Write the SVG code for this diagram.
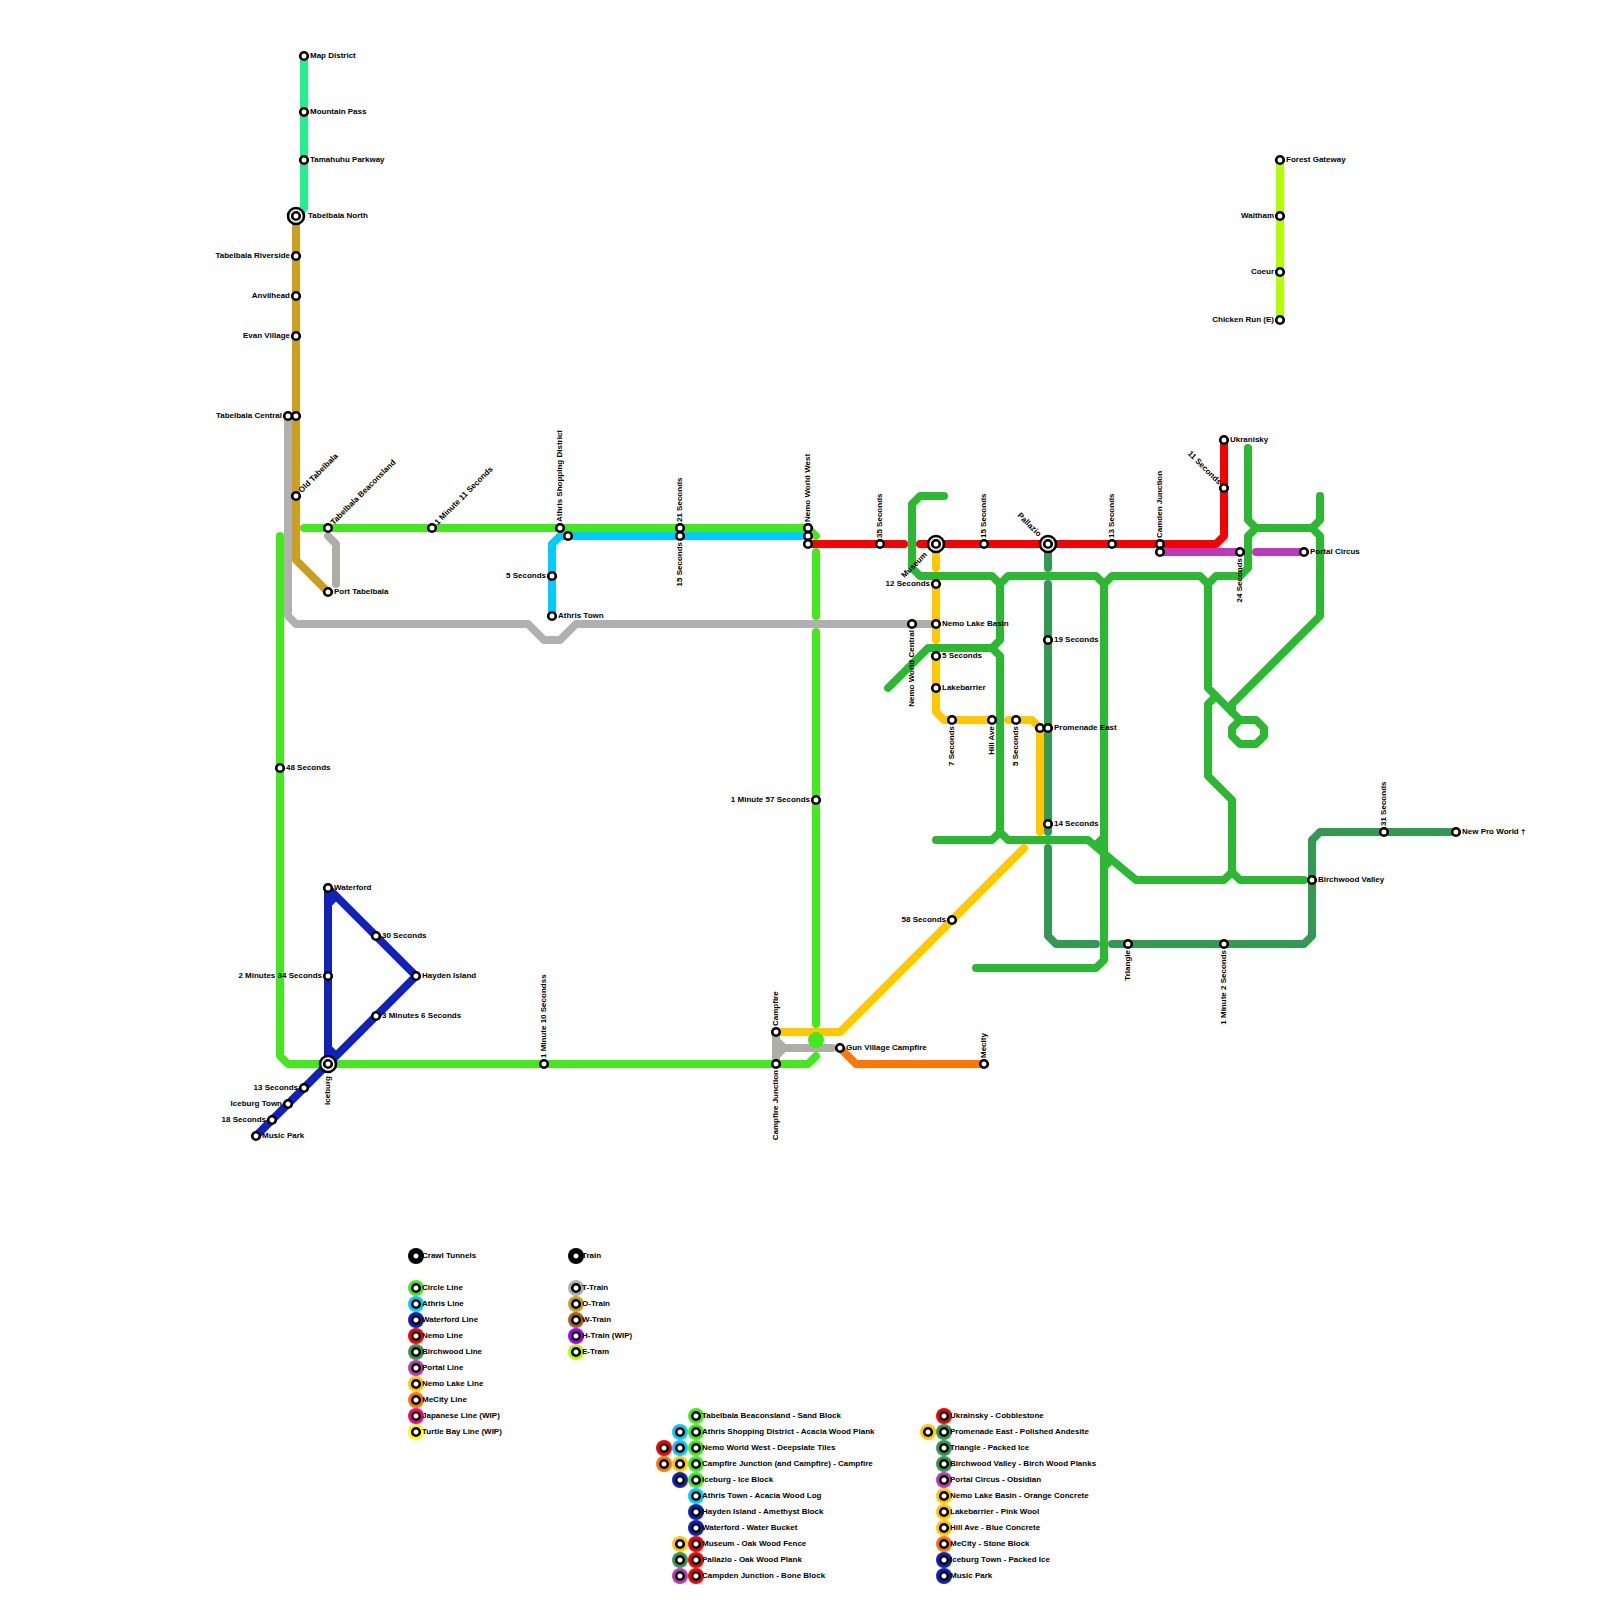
<svg xmlns="http://www.w3.org/2000/svg" width="1600" height="1600" viewBox="0 0 1600 1600">
<style>
text{font-family:"Liberation Sans",Arial,sans-serif;font-size:8px;font-weight:bold;fill:#000}
.e{text-anchor:end}
.l{fill:none;stroke-width:8;stroke-linecap:round;stroke-linejoin:round}
.s{fill:#fff;stroke:#000;stroke-width:2.6}
.k{fill:#000}
.circle{stroke:#45E81F}.athris{stroke:#00CCFF}.water{stroke:#1122BB}.nemo{stroke:#F70000}.birch{stroke:#339955}.portal{stroke:#BA3ABA}.lake{stroke:#FFC800}.mecity{stroke:#FF7700}.t{stroke:#B0B0B0}.t2{stroke:#ADAFA5}.o{stroke:#CC9F1F}.etram{stroke:#B3FF00}.map{stroke:#22F08C}.wip{stroke:#2DB833}
</style>
<rect width="1600" height="1600" fill="#fff"/>
<g id="connectors">
<path class="l map" d="M304 56V208L296 216"/>
<path class="l t" d="M288 416V616L296 624H528L544 640H560L576 624H912"/>
<path class="l t2" d="M912 624H936"/>
<path class="l t2" d="M328 536L336 544V584"/>
<path class="l o" d="M296 216V560L328 592"/>
<path class="l circle" d="M304 528H808L816 536"/>
<path class="l circle" d="M280 536V1056L288 1064H808L816 1056"/>
<path class="l circle" d="M816 552V616M816 632V1024"/>
<path class="l athris" d="M552 616V544L560 536H808"/>
<path class="l water" d="M328 888V1064M336 896L328 904M328 1048L336 1056M328 888L416 976L256 1136"/>
<path class="l lake" d="M936 544V568M936 584V640M936 656V712L944 720H992M1008 720H1032L1040 728V832M1024 848L840 1032H776"/>
<path class="l t2" d="M776 1032V1064M776 1040L784 1048L776 1056M784 1048H832"/>
<circle cx="816" cy="1040" r="8" fill="#45E81F"/>
<path class="l mecity" d="M840 1048L856 1064H984"/>
<path class="l wip" d="M944 496H920L912 504V568L920 576H992L1000 584L1008 576H1096L1104 584L1112 576H1200L1208 584L1216 576H1240L1248 568V536L1256 528H1312L1320 536V616L1232 704V712"/>
<path class="l wip" d="M1248 448V520L1256 528M1312 528L1320 520V496"/>
<path class="l wip" d="M1000 584V640L992 648H928L888 688M992 648L1000 656V832L992 840H936M1000 832L1008 840H1088L1136 880H1224L1232 872V800L1208 776V704L1216 696M1232 872L1240 880H1304"/>
<path class="l wip" d="M1104 584V960L1096 968H976M1104 837L1098 843M1104 867L1110 861"/>
<path class="l wip" d="M1208 584V688L1240 720H1256L1264 728V736L1256 744H1240L1232 736V728L1240 720"/>
<path class="l nemo" d="M808 544H904M920 544H1216L1224 536V440"/>
<path class="l portal" d="M1160 552H1240M1256 552H1304"/>
<path class="l birch" d="M1048 544V568M1048 584V832M1048 848V936L1056 944H1096M1112 944H1304L1312 936V840L1320 832H1456"/>
<path class="l etram" d="M1280 160V320"/>
</g>
<g id="stations">
<g id="n1"><circle class="s" cx="304" cy="56" r="3.8"/><text x="310" y="58">Map District</text></g>
<g id="n2"><circle class="s" cx="304" cy="112" r="3.8"/><text x="310" y="114">Mountain Pass</text></g>
<g id="n3"><circle class="s" cx="304" cy="160" r="3.8"/><text x="310" y="162">Tamahuhu Parkway</text></g>
<g id="n4"><circle class="s" cx="296" cy="216" r="8"/><circle class="s" cx="296" cy="216" r="3.8"/><text x="308" y="218">Tabelbala North</text></g>
<g id="n5"><circle class="s" cx="296" cy="256" r="3.8"/><text class="e" x="290" y="258">Tabelbala Riverside</text></g>
<g id="n6"><circle class="s" cx="296" cy="296" r="3.8"/><text class="e" x="290" y="298">Anvilhead</text></g>
<g id="n7"><circle class="s" cx="296" cy="336" r="3.8"/><text class="e" x="290" y="338">Evan Village</text></g>
<g id="n8"><circle class="s" cx="288" cy="416" r="3.8"/><text class="e" x="282" y="418">Tabelbala Central</text></g>
<g id="n9"><circle class="s" cx="296" cy="416" r="3.8"/></g>
<g id="n10"><circle class="s" cx="296" cy="496" r="3.8"/><text x="302" y="498" transform="rotate(-45 296 496)">Old Tabelbala</text></g>
<g id="n11"><circle class="s" cx="328" cy="528" r="3.8"/><text x="334" y="530" transform="rotate(-45 328 528)">Tabelbala Beaconsland</text></g>
<g id="n12"><circle class="s" cx="432" cy="528" r="3.8"/><text x="438" y="530" transform="rotate(-45 432 528)">1 Minute 11 Seconds</text></g>
<g id="n13"><circle class="s" cx="328" cy="592" r="3.8"/><text x="334" y="594">Port Tabelbala</text></g>
<g id="n14"><circle class="s" cx="560" cy="528" r="3.8"/><text x="566" y="530" transform="rotate(-90 560 528)">Athris Shopping District</text></g>
<g id="n15"><circle class="s" cx="568" cy="536" r="3.8"/></g>
<g id="n16"><circle class="s" cx="552" cy="576" r="3.8"/><text class="e" x="546" y="578">5 Seconds</text></g>
<g id="n17"><circle class="s" cx="552" cy="616" r="3.8"/><text x="558" y="618">Athris Town</text></g>
<g id="n18"><circle class="s" cx="680" cy="528" r="3.8"/><text x="686" y="530" transform="rotate(-90 680 528)">21 Seconds</text></g>
<g id="n19"><circle class="s" cx="680" cy="536" r="3.8"/><text class="e" x="674" y="538" transform="rotate(-90 680 536)">15 Seconds</text></g>
<g id="n20"><circle class="s" cx="808" cy="528" r="3.8"/><text x="814" y="530" transform="rotate(-90 808 528)">Nemo World West</text></g>
<g id="n21"><circle class="s" cx="808" cy="536" r="3.8"/></g>
<g id="n22"><circle class="s" cx="808" cy="544" r="3.8"/></g>
<g id="n23"><circle class="s" cx="880" cy="544" r="3.8"/><text x="886" y="546" transform="rotate(-90 880 544)">35 Seconds</text></g>
<g id="n24"><circle class="s" cx="936" cy="544" r="8"/><circle class="s" cx="936" cy="544" r="3.8"/><text class="e" x="922" y="546" transform="rotate(-45 936 544)">Museum</text></g>
<g id="n25"><circle class="s" cx="984" cy="544" r="3.8"/><text x="990" y="546" transform="rotate(-90 984 544)">15 Seconds</text></g>
<g id="n26"><circle class="s" cx="1048" cy="544" r="8"/><circle class="s" cx="1048" cy="544" r="3.8"/><text class="e" x="1036" y="546" transform="rotate(45 1048 544)">Pallazio</text></g>
<g id="n27"><circle class="s" cx="1112" cy="544" r="3.8"/><text x="1118" y="546" transform="rotate(-90 1112 544)">13 Seconds</text></g>
<g id="n28"><circle class="s" cx="1160" cy="544" r="3.8"/><text x="1166" y="546" transform="rotate(-90 1160 544)">Camden Junction</text></g>
<g id="n29"><circle class="s" cx="1160" cy="552" r="3.8"/></g>
<g id="n30"><circle class="s" cx="1224" cy="440" r="3.8"/><text x="1230" y="442">Ukranisky</text></g>
<g id="n31"><circle class="s" cx="1224" cy="488" r="3.8"/><text class="e" x="1218" y="490" transform="rotate(45 1224 488)">11 Seconds</text></g>
<g id="n32"><circle class="s" cx="1240" cy="552" r="3.8"/><text class="e" x="1234" y="554" transform="rotate(-90 1240 552)">24 Seconds</text></g>
<g id="n33"><circle class="s" cx="1304" cy="552" r="3.8"/><text x="1310" y="554">Portal Circus</text></g>
<g id="n34"><circle class="s" cx="936" cy="584" r="3.8"/><text class="e" x="930" y="586">12 Seconds</text></g>
<g id="n35"><circle class="s" cx="936" cy="624" r="3.8"/><text x="942" y="626">Nemo Lake Basin</text></g>
<g id="n36"><circle class="s" cx="912" cy="624" r="3.8"/><text class="e" x="906" y="626" transform="rotate(-90 912 624)">Nemo World Central</text></g>
<g id="n37"><circle class="s" cx="936" cy="656" r="3.8"/><text x="942" y="658">5 Seconds</text></g>
<g id="n38"><circle class="s" cx="936" cy="688" r="3.8"/><text x="942" y="690">Lakebarrier</text></g>
<g id="n39"><circle class="s" cx="952" cy="720" r="3.8"/><text class="e" x="946" y="722" transform="rotate(-90 952 720)">7 Seconds</text></g>
<g id="n40"><circle class="s" cx="992" cy="720" r="3.8"/><text class="e" x="986" y="722" transform="rotate(-90 992 720)">Hill Ave</text></g>
<g id="n41"><circle class="s" cx="1016" cy="720" r="3.8"/><text class="e" x="1010" y="722" transform="rotate(-90 1016 720)">5 Seconds</text></g>
<g id="n42"><circle class="s" cx="1040" cy="728" r="3.8"/></g>
<g id="n43"><circle class="s" cx="1048" cy="728" r="3.8"/><text x="1054" y="730">Promenade East</text></g>
<g id="n44"><circle class="s" cx="1048" cy="640" r="3.8"/><text x="1054" y="642">19 Seconds</text></g>
<g id="n45"><circle class="s" cx="1048" cy="824" r="3.8"/><text x="1054" y="826">14 Seconds</text></g>
<g id="n46"><circle class="s" cx="952" cy="920" r="3.8"/><text class="e" x="946" y="922">58 Seconds</text></g>
<g id="n47"><circle class="s" cx="1128" cy="944" r="3.8"/><text class="e" x="1122" y="946" transform="rotate(-90 1128 944)">Triangle</text></g>
<g id="n48"><circle class="s" cx="1224" cy="944" r="3.8"/><text class="e" x="1218" y="946" transform="rotate(-90 1224 944)">1 Minute 2 Seconds</text></g>
<g id="n49"><circle class="s" cx="1312" cy="880" r="3.8"/><text x="1318" y="882">Birchwood Valley</text></g>
<g id="n50"><circle class="s" cx="1384" cy="832" r="3.8"/><text x="1390" y="834" transform="rotate(-90 1384 832)">31 Seconds</text></g>
<g id="n51"><circle class="s" cx="1456" cy="832" r="3.8"/><text x="1462" y="834">New Pro World †</text></g>
<g id="n52"><circle class="s" cx="1280" cy="160" r="3.8"/><text x="1286" y="162">Forest Gateway</text></g>
<g id="n53"><circle class="s" cx="1280" cy="216" r="3.8"/><text class="e" x="1274" y="218">Waltham</text></g>
<g id="n54"><circle class="s" cx="1280" cy="272" r="3.8"/><text class="e" x="1274" y="274">Coeur</text></g>
<g id="n55"><circle class="s" cx="1280" cy="320" r="3.8"/><text class="e" x="1274" y="322">Chicken Run (E)</text></g>
<g id="n56"><circle class="s" cx="816" cy="800" r="3.8"/><text class="e" x="810" y="802">1 Minute 57 Seconds</text></g>
<g id="n57"><circle class="s" cx="776" cy="1032" r="3.8"/><text x="782" y="1034" transform="rotate(-90 776 1032)">Campfire</text></g>
<g id="n58"><circle class="s" cx="776" cy="1064" r="3.8"/><text class="e" x="770" y="1066" transform="rotate(-90 776 1064)">Campfire Junction</text></g>
<g id="n59"><circle class="s" cx="840" cy="1048" r="3.8"/><text x="846" y="1050">Gun Village Campfire</text></g>
<g id="n60"><circle class="s" cx="984" cy="1064" r="3.8"/><text x="990" y="1066" transform="rotate(-90 984 1064)">Mecity</text></g>
<g id="n61"><circle class="s" cx="544" cy="1064" r="3.8"/><text x="550" y="1066" transform="rotate(-90 544 1064)">1 Minute 10 Secondss</text></g>
<g id="n62"><circle class="s" cx="280" cy="768" r="3.8"/><text x="286" y="770">48 Seconds</text></g>
<g id="n63"><circle class="s" cx="328" cy="888" r="3.8"/><text x="334" y="890">Waterford</text></g>
<g id="n64"><circle class="s" cx="376" cy="936" r="3.8"/><text x="382" y="938">30 Seconds</text></g>
<g id="n65"><circle class="s" cx="416" cy="976" r="3.8"/><text x="422" y="978">Hayden Island</text></g>
<g id="n66"><circle class="s" cx="376" cy="1016" r="3.8"/><text x="382" y="1018">3 Minutes 6 Seconds</text></g>
<g id="n67"><circle class="s" cx="328" cy="976" r="3.8"/><text class="e" x="322" y="978">2 Minutes 34 Seconds</text></g>
<g id="n68"><circle class="s" cx="328" cy="1064" r="8"/><circle class="s" cx="328" cy="1064" r="3.8"/><text class="e" x="316" y="1066" transform="rotate(-90 328 1064)">Iceburg</text></g>
<g id="n69"><circle class="s" cx="304" cy="1088" r="3.8"/><text class="e" x="298" y="1090">13 Seconds</text></g>
<g id="n70"><circle class="s" cx="288" cy="1104" r="3.8"/><text class="e" x="282" y="1106">Iceburg Town</text></g>
<g id="n71"><circle class="s" cx="272" cy="1120" r="3.8"/><text class="e" x="266" y="1122">18 Seconds</text></g>
<g id="n72"><circle class="s" cx="256" cy="1136" r="3.8"/><text x="262" y="1138">Music Park</text></g>
</g>
<defs>
<g id="m"><circle class="s" r="3.8"/></g>
</defs>
<g id="legend">
<circle class="k" cx="416" cy="1256" r="8"/><use href="#m" x="416" y="1256"/><text x="422" y="1258">Crawl Tunnels</text>
<circle class="k" cx="576" cy="1256" r="8"/><use href="#m" x="576" y="1256"/><text x="582" y="1258">Train</text>
<circle cx="416" cy="1288" r="8" fill="#45E81F"/><use href="#m" x="416" y="1288"/><text x="422" y="1290">Circle Line</text>
<circle cx="416" cy="1304" r="8" fill="#00CCFF"/><use href="#m" x="416" y="1304"/><text x="422" y="1306">Athris Line</text>
<circle cx="416" cy="1320" r="8" fill="#1122BB"/><use href="#m" x="416" y="1320"/><text x="422" y="1322">Waterford Line</text>
<circle cx="416" cy="1336" r="8" fill="#F70000"/><use href="#m" x="416" y="1336"/><text x="422" y="1338">Nemo Line</text>
<circle cx="416" cy="1352" r="8" fill="#339955"/><use href="#m" x="416" y="1352"/><text x="422" y="1354">Birchwood Line</text>
<circle cx="416" cy="1368" r="8" fill="#BA3ABA"/><use href="#m" x="416" y="1368"/><text x="422" y="1370">Portal Line</text>
<circle cx="416" cy="1384" r="8" fill="#FFC800"/><use href="#m" x="416" y="1384"/><text x="422" y="1386">Nemo Lake Line</text>
<circle cx="416" cy="1400" r="8" fill="#FF7700"/><use href="#m" x="416" y="1400"/><text x="422" y="1402">MeCity Line</text>
<circle cx="416" cy="1416" r="8" fill="#FF0088"/><use href="#m" x="416" y="1416"/><text x="422" y="1418">Japanese Line (WIP)</text>
<circle cx="416" cy="1432" r="8" fill="#FFFF00"/><use href="#m" x="416" y="1432"/><text x="422" y="1434">Turtle Bay Line (WIP)</text>
<circle cx="576" cy="1288" r="8" fill="#B0B0B0"/><use href="#m" x="576" y="1288"/><text x="582" y="1290">T-Train</text>
<circle cx="576" cy="1304" r="8" fill="#CC9F1F"/><use href="#m" x="576" y="1304"/><text x="582" y="1306">O-Train</text>
<circle cx="576" cy="1320" r="8" fill="#A66322"/><use href="#m" x="576" y="1320"/><text x="582" y="1322">W-Train</text>
<circle cx="576" cy="1336" r="8" fill="#AA00FF"/><use href="#m" x="576" y="1336"/><text x="582" y="1338">H-Train (WIP)</text>
<circle cx="576" cy="1352" r="8" fill="#B3FF00"/><use href="#m" x="576" y="1352"/><text x="582" y="1354">E-Tram</text>

<circle cx="696" cy="1416" r="8" fill="#45E81F"/><use href="#m" x="696" y="1416"/><text x="702" y="1418">Tabelbala Beaconsland - Sand Block</text>
<circle cx="680" cy="1432" r="8" fill="#00CCFF"/><use href="#m" x="680" y="1432"/>
<circle cx="696" cy="1432" r="8" fill="#45E81F"/><use href="#m" x="696" y="1432"/><text x="702" y="1434">Athris Shopping District - Acacia Wood Plank</text>
<circle cx="664" cy="1448" r="8" fill="#F70000"/><use href="#m" x="664" y="1448"/>
<circle cx="680" cy="1448" r="8" fill="#00CCFF"/><use href="#m" x="680" y="1448"/>
<circle cx="696" cy="1448" r="8" fill="#45E81F"/><use href="#m" x="696" y="1448"/><text x="702" y="1450">Nemo World West - Deepslate Tiles</text>
<circle cx="664" cy="1464" r="8" fill="#FF7700"/><use href="#m" x="664" y="1464"/>
<circle cx="680" cy="1464" r="8" fill="#FFC800"/><use href="#m" x="680" y="1464"/>
<circle cx="696" cy="1464" r="8" fill="#45E81F"/><use href="#m" x="696" y="1464"/><text x="702" y="1466">Campfire Junction (and Campfire) - Campfire</text>
<circle cx="680" cy="1480" r="8" fill="#1122BB"/><use href="#m" x="680" y="1480"/>
<circle cx="696" cy="1480" r="8" fill="#45E81F"/><use href="#m" x="696" y="1480"/><text x="702" y="1482">Iceburg - Ice Block</text>
<circle cx="696" cy="1496" r="8" fill="#00CCFF"/><use href="#m" x="696" y="1496"/><text x="702" y="1498">Athris Town - Acacia Wood Log</text>
<circle cx="696" cy="1512" r="8" fill="#1122BB"/><use href="#m" x="696" y="1512"/><text x="702" y="1514">Hayden Island - Amethyst Block</text>
<circle cx="696" cy="1528" r="8" fill="#1122BB"/><use href="#m" x="696" y="1528"/><text x="702" y="1530">Waterford - Water Bucket</text>
<circle cx="680" cy="1544" r="8" fill="#FFC800"/><use href="#m" x="680" y="1544"/>
<circle cx="696" cy="1544" r="8" fill="#F70000"/><use href="#m" x="696" y="1544"/><text x="702" y="1546">Museum - Oak Wood Fence</text>
<circle cx="680" cy="1560" r="8" fill="#339955"/><use href="#m" x="680" y="1560"/>
<circle cx="696" cy="1560" r="8" fill="#F70000"/><use href="#m" x="696" y="1560"/><text x="702" y="1562">Pallazio - Oak Wood Plank</text>
<circle cx="680" cy="1576" r="8" fill="#BA3ABA"/><use href="#m" x="680" y="1576"/>
<circle cx="696" cy="1576" r="8" fill="#F70000"/><use href="#m" x="696" y="1576"/><text x="702" y="1578">Campden Junction - Bone Block</text>

<circle cx="944" cy="1416" r="8" fill="#F70000"/><use href="#m" x="944" y="1416"/><text x="950" y="1418">Ukrainsky - Cobblestone</text>
<circle cx="928" cy="1432" r="8" fill="#FFC800"/><use href="#m" x="928" y="1432"/>
<circle cx="944" cy="1432" r="8" fill="#339955"/><use href="#m" x="944" y="1432"/><text x="950" y="1434">Promenade East - Polished Andesite</text>
<circle cx="944" cy="1448" r="8" fill="#339955"/><use href="#m" x="944" y="1448"/><text x="950" y="1450">Triangle - Packed Ice</text>
<circle cx="944" cy="1464" r="8" fill="#339955"/><use href="#m" x="944" y="1464"/><text x="950" y="1466">Birchwood Valley - Birch Wood Planks</text>
<circle cx="944" cy="1480" r="8" fill="#BA3ABA"/><use href="#m" x="944" y="1480"/><text x="950" y="1482">Portal Circus - Obsidian</text>
<circle cx="944" cy="1496" r="8" fill="#FFC800"/><use href="#m" x="944" y="1496"/><text x="950" y="1498">Nemo Lake Basin - Orange Concrete</text>
<circle cx="944" cy="1512" r="8" fill="#FFC800"/><use href="#m" x="944" y="1512"/><text x="950" y="1514">Lakebarrier - Pink Wool</text>
<circle cx="944" cy="1528" r="8" fill="#FFC800"/><use href="#m" x="944" y="1528"/><text x="950" y="1530">Hill Ave - Blue Concrete</text>
<circle cx="944" cy="1544" r="8" fill="#FF7700"/><use href="#m" x="944" y="1544"/><text x="950" y="1546">MeCity - Stone Block</text>
<circle cx="944" cy="1560" r="8" fill="#1122BB"/><use href="#m" x="944" y="1560"/><text x="950" y="1562">Iceburg Town - Packed Ice</text>
<circle cx="944" cy="1576" r="8" fill="#1122BB"/><use href="#m" x="944" y="1576"/><text x="950" y="1578">Music Park</text>
</g>
</svg>
